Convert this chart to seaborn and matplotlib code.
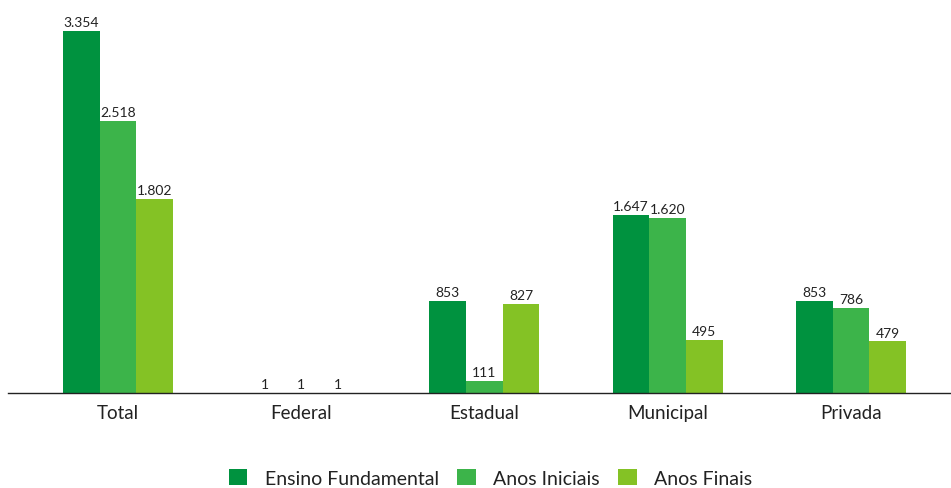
import matplotlib
matplotlib.use("Agg")
import matplotlib.pyplot as plt
import seaborn as sns
import pandas as pd
from matplotlib.patches import Patch

categories = ["Total", "Federal", "Estadual", "Municipal", "Privada"]
series = ["Ensino Fundamental", "Anos Iniciais", "Anos Finais"]
ensino_fundamental = [3354, 1, 853, 1647, 853]
anos_iniciais = [2518, 1, 111, 1620, 786]
anos_finais = [1802, 1, 827, 495, 479]
colors = ["#00923F", "#3CB44A", "#84C225"]

rows = []
for name, vals in zip(series, [ensino_fundamental, anos_iniciais, anos_finais]):
    for cat, v in zip(categories, vals):
        rows.append({"categoria": cat, "serie": name, "valor": v})
df = pd.DataFrame(rows)

sns.set_theme(style="white")
plt.rcParams["font.family"] = ["Lato", "DejaVu Sans"]

fig = plt.figure(figsize=(9.51, 4.89), dpi=100)
ax = fig.add_axes([8 / 951, 0.1943, 943 / 951, 0.8057])

sns.barplot(data=df, x="categoria", y="valor", hue="serie", order=categories,
            hue_order=series, palette=colors, width=0.6, saturation=1,
            linewidth=0, ax=ax, legend=False)

def fmt(v):
    return f"{v:,}".replace(",", ".")

for container in ax.containers:
    labels = [fmt(int(round(b.get_height()))) for b in container]
    ax.bar_label(container, labels=labels, padding=2, fontsize=10, color="#222222")

ax.set_xlim(-0.6, 4.546)
ax.set_ylim(0, 3651)
ax.set_xlabel("")
ax.set_ylabel("")
ax.set_yticks([])
ax.tick_params(axis="x", length=0, pad=8, labelsize=13.5, colors="#222222")
for side in ["top", "right", "left"]:
    ax.spines[side].set_visible(False)
ax.spines["bottom"].set_color("#222222")
ax.spines["bottom"].set_linewidth(1.0)
ax.set_facecolor("white")

handles = [Patch(facecolor=c, edgecolor="none", label=s) for c, s in zip(colors, series)]
fig.legend(handles=handles, loc="center", bbox_to_anchor=(0.516, 0.021), ncol=3,
           frameon=False, fontsize=14, handlelength=0.95, handleheight=0.95,
           handletextpad=0.9, columnspacing=0.95, labelcolor="#222222",
           borderpad=0.2)

fig.savefig("out.png", dpi=100, facecolor="white")
